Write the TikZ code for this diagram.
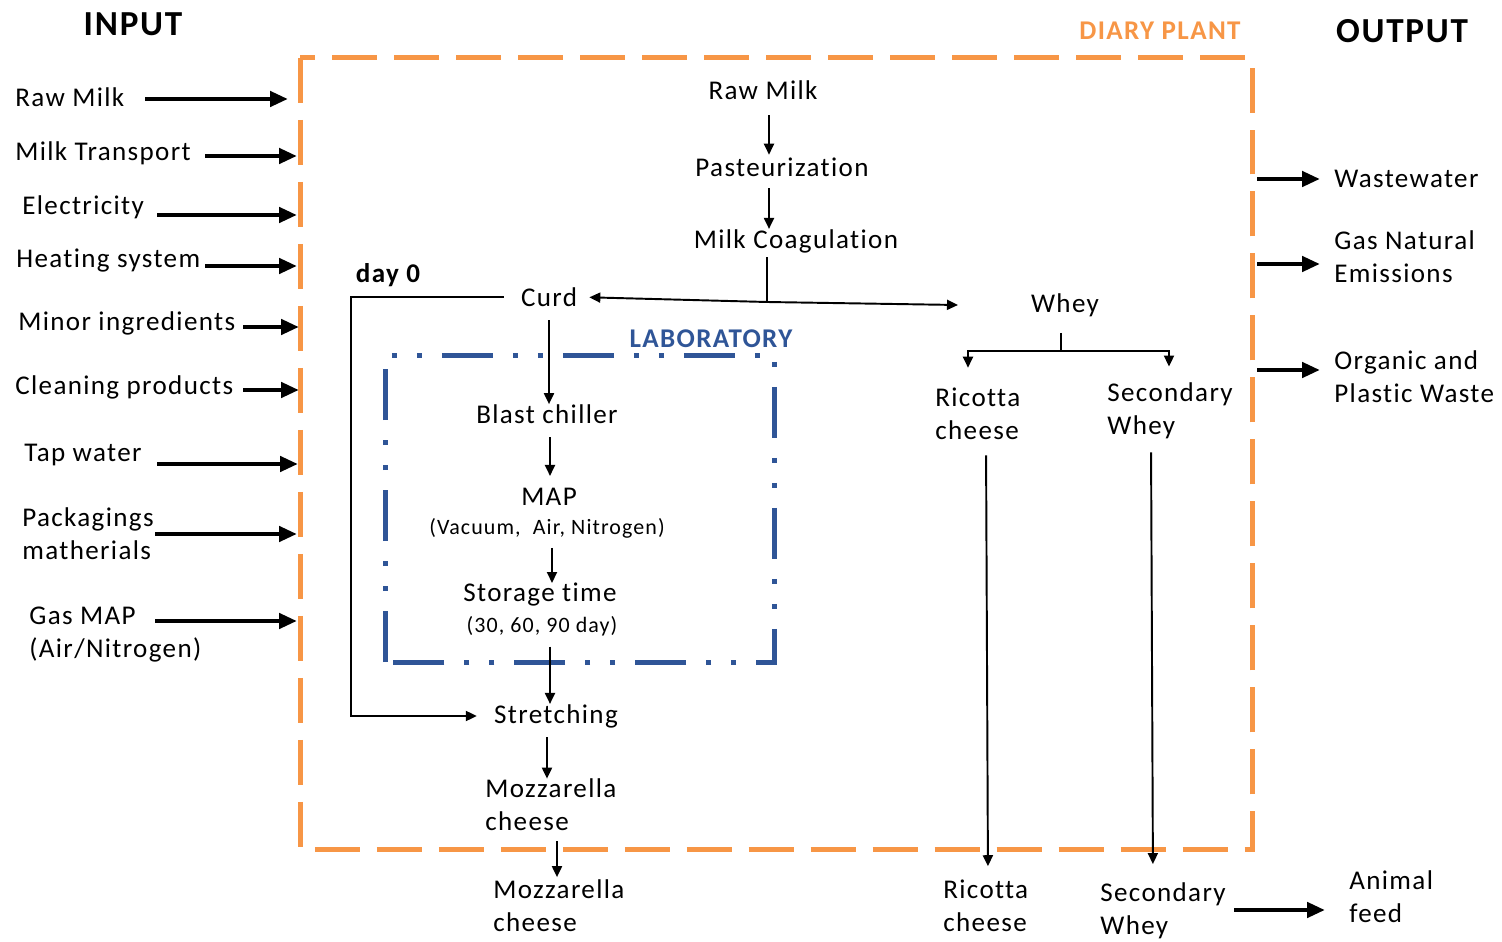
\documentclass[tikz,border=0pt]{standalone}
\usepackage{fontspec}
\setmainfont{Carlito}[LetterSpace=5,Ligatures=NoCommon]
\usetikzlibrary{arrows.meta}
\definecolor{plantorange}{RGB}{247,150,70}
\definecolor{labblue}{RGB}{47,85,151}

\begin{document}
\begin{tikzpicture}[x=0.02cm,y=-0.02cm,
  lbl/.style={inner sep=0pt,font=\fontsize{15.4}{18.8}\selectfont},
  sublbl/.style={inner sep=0pt,font=\fontsize{12.5}{15}\selectfont},
  title/.style={inner sep=0pt,font=\fontsize{20}{24}\selectfont\bfseries},
  boxtitle/.style={inner sep=0pt,font=\fontsize{15.4}{18.8}\selectfont\bfseries},
  fat/.style={line width=2.6pt,-{Triangle[length=0.36cm,width=0.3cm]}},
  flow/.style={line width=1.1pt,-{Triangle[length=0.22cm,width=0.2cm]}}]
\useasboundingbox (0,0) rectangle (1502,942);

% plant and laboratory borders
\draw[plantorange,line width=0.1cm,dash pattern=on 0.9cm off 0.34cm] (300,58) rectangle (1252,849);
\draw[labblue,line width=0.1cm,dash pattern=on 1.02cm off 0.4cm on 0.1cm off 0.4cm on 0.1cm off 0.4cm]
  (385,662) -- (385,356) -- (774,356) -- (774,662) -- cycle;

% titles
\node[title] (input) at (133,24) {INPUT};
\node[title] (output) at (1402,31) {OUTPUT};
\node[boxtitle,plantorange] (plant) at (1160,31) {DIARY PLANT};
\node[boxtitle,labblue] (lab) at (711,339) {LABORATORY};
\node[boxtitle] (day) at (388,275) {day 0};

% inputs
\node[lbl,anchor=west] (in1) at (15,97) {Raw Milk};
\node[lbl,anchor=west] (in2) at (15,153) {Milk Transport};
\node[lbl,anchor=west] (in3) at (22,207) {Electricity};
\node[lbl,anchor=west] (in4) at (16,261) {Heating system};
\node[lbl,anchor=west] (in5) at (18,323) {Minor ingredients};
\node[lbl,anchor=west] (in6) at (15,387) {Cleaning products};
\node[lbl,anchor=west] (in7) at (24,455) {Tap water};
\node[lbl,anchor=west,align=left] (in8) at (22,534) {Packagings\\matherials};
\node[lbl,anchor=west,align=left] (in9) at (29,635) {Gas MAP\\(Air/Nitrogen)};
\foreach \n/\a/\b/\y in {1/145/288/99, 2/205/297/156, 3/157/297/215, 4/205/297/266,
    5/243/299/327, 6/243/299/390, 7/157/298/464, 8/155/297/534, 9/155/297/621}{
  \coordinate (in\n s) at (\a,\y);
  \coordinate (in\n e) at (\b,\y);
  \draw[fat] (in\n s) -- (in\n e);
}

% outputs
\node[lbl,anchor=west] (out1) at (1334,179) {Wastewater};
\node[lbl,anchor=west,align=left] (out2) at (1334,257) {Gas Natural\\Emissions};
\node[lbl,anchor=west,align=left] (out3) at (1334,377) {Organic and\\Plastic Waste};
\foreach \n/\y in {1/179, 2/264, 3/370}{
  \coordinate (out\n s) at (1257,\y);
  \draw[fat,shorten >=0.28cm] (out\n s) -- (out\n.west |- out\n s);
}

% process
\node[lbl] (milk) at (763,90) {Raw Milk};
\node[lbl] (past) at (782,167) {Pasteurization};
\node[lbl] (coag) at (796,241) {Milk Coagulation};
\node[lbl] (curd) at (549,297) {Curd};
\node[lbl] (whey) at (1065,305) {Whey};
\node[lbl] (blast) at (547,414) {Blast chiller};
\node[lbl] (map) at (549,497) {MAP};
\node[sublbl] (mapsub) at (547,528) {(Vacuum,~ Air, Nitrogen)};
\node[lbl] (store) at (540,595) {Storage time};
\node[sublbl] (storesub) at (542,626) {(30, 60, 90 day)};
\node[lbl] (stretch) at (556,716) {Stretching};
\node[lbl,anchor=west,align=left] (mozz) at (485,805) {Mozzarella\\cheese};
\node[lbl,anchor=west,align=left] (mozzout) at (493,906) {Mozzarella\\cheese};
\node[lbl,anchor=west,align=left] (ric) at (935,414) {Ricotta\\cheese};
\node[lbl,anchor=west,align=left] (sec) at (1107,411) {Secondary\\Whey};
\node[lbl,anchor=west,align=left] (ricout) at (943,906) {Ricotta\\cheese};
\node[lbl,anchor=west,align=left] (secout) at (1100,911) {Secondary\\Whey};
\node[lbl,anchor=west,align=left] (feed) at (1349,897) {Animal\\feed};

\draw[flow,shorten <=0.31cm,shorten >=0.05cm] (milk.south -| 769,0) -- (past.north -| 769,0);
\draw[flow,shorten <=0.23cm] (past.south -| 769,0) -- (coag.north -| 769,0);

\coordinate (split) at (767,302);
\coordinate (wheyin) at (958,305);
\draw[line width=1.1pt,shorten <=0.08cm] (coag.south -| split) -- (split);
\draw[flow,shorten >=0.24cm] (split) -- (curd.east);
\draw[flow] (split) -- (wheyin);

\draw[flow,shorten <=0.34cm,shorten >=0.34cm] (curd.west) -- (curd.west -| 351,0) -- (stretch.west -| 351,0) -- (stretch.west);
\draw[flow,shorten <=0.27cm] (curd.south -| 549,0) -- (blast.north -| 549,0);
\draw[flow,shorten <=0.27cm,shorten >=0.24cm] (blast.south -| 550,0) -- (map.north -| 550,0);
\draw[flow,shorten <=0.19cm] (mapsub.south -| 552,0) -- (store.north -| 552,0);
\draw[flow,shorten <=0.21cm] (storesub.south -| 550,0) -- (stretch.north -| 550,0);
\draw[flow,shorten <=0.18cm] (stretch.south -| 547,0) -- (mozz.north -| 547,0);
\draw[flow,shorten <=0.2cm,shorten >=0.05cm] (mozz.south -| 557,0) -- (mozzout.north -| 557,0);

\coordinate (wsplit) at (1061,351);
\draw[line width=1.1pt,shorten <=0.32cm] (whey.south -| wsplit) -- (wsplit);
\draw[flow,shorten >=0.4cm] (wsplit) -| (ric.north -| 968,0);
\draw[flow,shorten >=0.32cm] (wsplit) -| (sec.north -| 1169,0);
\draw[flow,shorten <=0.3cm,shorten >=0.27cm] (ric.south -| 986,0) -- (ricout.north -| 988,0);
\draw[flow,shorten <=0.26cm,shorten >=0.37cm] (sec.south -| 1151,0) -- (secout.north -| 1153,0);
\draw[fat,shorten <=0.16cm,shorten >=0.48cm] (secout.east |- 0,910) -- (feed.west |- 0,910);
\end{tikzpicture}
\end{document}
